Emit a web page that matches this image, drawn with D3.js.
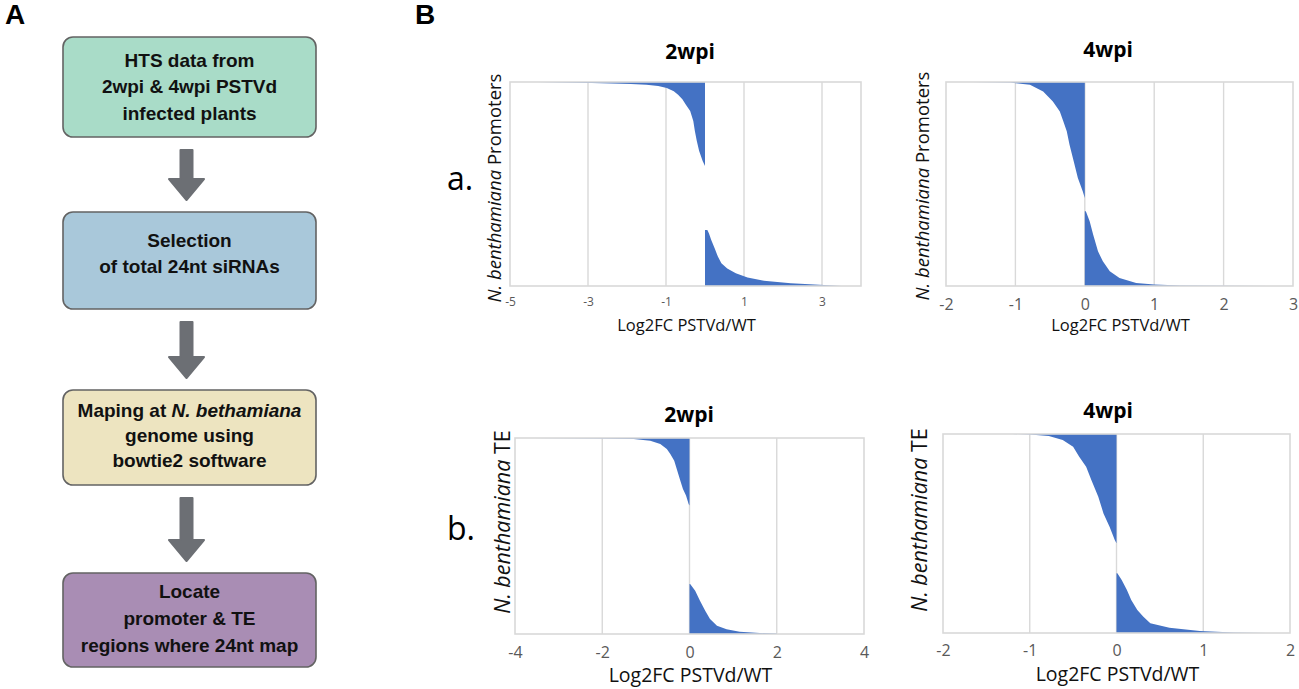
<!DOCTYPE html>
<html lang="en">
<head>
<meta charset="utf-8">
<title>PSTVd 24nt siRNA workflow and Log2FC distributions</title>
<script src="https://cdn.jsdelivr.net/npm/d3@7"></script>
<style>
  body { margin: 0; background: #fff; }
  svg { display: block; }
</style>
</head>
<body>
<div id="vis"></div>
<script>
// ---- data ----
// flowchart steps (text between * is italic)
const stepLines = [
  ["HTS data from", "2wpi & 4wpi PSTVd", "infected plants"],
  ["Selection", "of total 24nt siRNAs"],
  ["Maping at *N. bethamiana*", "genome using", "bowtie2 software"],
  ["Locate", "promoter & TE", "regions where 24nt map"]
];
const stepColours = ["#a9dcc8", "#a9c8da", "#ede4c0", "#a98db4"];

// rank = position of the feature in the sorted list (% of rows, top to bottom)
const a2wpiRank  = [0, 0.5, 1.0, 1.4, 2.0, 2.9, 4.5, 6.2, 8.5, 11.1, 14.2, 19.1, 24.0, 28.9, 33.8, 38.7, 41.2, 72.6, 72.6, 74.2, 77.5, 81.6, 85.6, 88.9, 91.4, 93.8, 95.8, 97.4, 98.7, 99.5, 100];
const a2wpiLog2FC = [-4.3, -2.9, -1.9, -1.5, -1.2, -0.98, -0.8, -0.69, -0.58, -0.49, -0.38, -0.30, -0.26, -0.21, -0.15, -0.06, 0, 0, 0.06, 0.10, 0.16, 0.25, 0.33, 0.42, 0.57, 0.79, 1.09, 1.51, 2.2, 3.05, 3.5];

const a4wpiRank  = [0, 0.3, 1.3, 4.6, 9.5, 14.4, 19.3, 24.2, 30.7, 38.9, 47.1, 53.6, 56.9, 63.4, 63.4, 68.3, 74.8, 83.0, 87.9, 92.8, 96.1, 98.5, 99.3, 99.7, 100];
const a4wpiLog2FC = [-1.62, -1.07, -0.79, -0.60, -0.46, -0.36, -0.31, -0.26, -0.22, -0.16, -0.10, -0.03, 0, 0, 0.015, 0.07, 0.12, 0.19, 0.26, 0.36, 0.5, 0.74, 1.0, 1.38, 2.67];

const b2wpiRank  = [0, 0.2, 0.5, 1.4, 3.1, 5.6, 8.2, 11.6, 16.7, 21.8, 26.0, 29.4, 33.7, 34.5, 74.5, 74.5, 77.9, 83.0, 88.1, 92.3, 95.8, 97.6, 98.8, 99.5, 99.8, 100];
const b2wpiLog2FC = [-3.6, -2.0, -1.28, -0.9, -0.67, -0.52, -0.44, -0.35, -0.28, -0.21, -0.15, -0.08, -0.02, 0, 0, 0.015, 0.13, 0.24, 0.36, 0.47, 0.63, 0.85, 1.15, 1.61, 2.0, 2.0];

const b4wpiRank  = [0, 0.3, 1.0, 3.0, 6.4, 11.4, 16.4, 23.1, 31.5, 39.9, 46.6, 53.3, 54.9, 70.0, 70.0, 73.4, 78.4, 83.4, 88.4, 91.8, 95.1, 97.3, 99.0, 99.7, 100];
const b4wpiLog2FC = [-1.2, -1.0, -0.78, -0.62, -0.5, -0.43, -0.35, -0.29, -0.21, -0.15, -0.08, -0.02, 0, 0, 0.01, 0.06, 0.12, 0.17, 0.24, 0.31, 0.39, 0.61, 0.96, 1.35, 1.73];

// tick labels on each x axis
const a2wpiTicks = [-5, -3, -1, 1, 3];
const a4wpiTicks = [-2, -1, 0, 1, 2, 3];
const b2wpiTicks = [-4, -2, 0, 2, 4];
const b4wpiTicks = [-2, -1, 0, 1, 2];

// ---- layout ----
const W = 1299, H = 689;
const blue = "#4472c4";
const gridCol = "#d9d9d9";
const chartFont = "'Open Sans', 'Noto Sans', sans-serif";
const boxFont = "'Liberation Sans', Arial, sans-serif";

const svg = d3.select("#vis").append("svg")
  .attr("width", W).attr("height", H)
  .attr("viewBox", `0 0 ${W} ${H}`);

// panel letters
svg.append("text").attr("x", 5).attr("y", 24).text("A")
  .attr("font-family", boxFont).attr("font-weight", "bold").attr("font-size", 28);
svg.append("text").attr("x", 415).attr("y", 24).text("B")
  .attr("font-family", boxFont).attr("font-weight", "bold").attr("font-size", 28);

// ---- panel A: flowchart ----
const boxX = 63, boxW = 253, boxCx = boxX + boxW / 2;
const boxes = [
  { top: 37, bottom: 137, base: [67, 93, 120] },
  { top: 212, bottom: 309, base: [247, 273] },
  { top: 390, bottom: 485, base: [417, 442, 467] },
  { top: 573, bottom: 667, base: [598, 625, 652] }
];

function addLine(sel, line) {
  // split on * to get italic pieces
  line.split("*").forEach((part, i) => {
    if (!part) return;
    sel.append("tspan").text(part).attr("font-style", i % 2 ? "italic" : null);
  });
}

boxes.forEach((b, i) => {
  const g = svg.append("g");
  g.append("rect")
    .attr("x", boxX).attr("y", b.top)
    .attr("width", boxW).attr("height", b.bottom - b.top)
    .attr("rx", 10).attr("ry", 10)
    .attr("fill", stepColours[i])
    .attr("stroke", "#636363").attr("stroke-width", 1.6);
  stepLines[i].forEach((line, j) => {
    const t = g.append("text")
      .attr("x", boxCx).attr("y", b.base[j])
      .attr("text-anchor", "middle")
      .attr("font-family", boxFont).attr("font-weight", "bold")
      .attr("font-size", 19).attr("fill", "#111");
    addLine(t, line);
  });

  // arrow down to the next box
  if (i < boxes.length - 1) {
    const y0 = b.bottom + 13, y1 = boxes[i + 1].top - 12;
    const headH = 21, shaftW = 12, headW = 35, cx = boxCx - 3;
    const p = d3.path();
    p.moveTo(cx - shaftW / 2, y0);
    p.lineTo(cx + shaftW / 2, y0);
    p.lineTo(cx + shaftW / 2, y1 - headH);
    p.lineTo(cx + headW / 2, y1 - headH);
    p.lineTo(cx, y1);
    p.lineTo(cx - headW / 2, y1 - headH);
    p.lineTo(cx - shaftW / 2, y1 - headH);
    p.closePath();
    svg.append("path").attr("d", p.toString())
      .attr("fill", "#6c6f74").attr("stroke", "#6c6f74")
      .attr("stroke-width", 2).attr("stroke-linejoin", "round");
  }
});

// ---- panel B: sorted Log2FC bar profiles ----
const charts = [
  { title: "2wpi", feature: "Promoters", rank: a2wpiRank, val: a2wpiLog2FC, ticks: a2wpiTicks,
    domain: [-5, 4], l: 510, r: 861, t: 82, b: 286, titleX: 690,
    titleY: 59, tickY: 306, tickSize: 12, axisY: 331, axisSize: 16.5, ylabX: 501, ylabY: 188, ylabSize: 18.5 },
  { title: "4wpi", feature: "Promoters", rank: a4wpiRank, val: a4wpiLog2FC, ticks: a4wpiTicks,
    domain: [-2, 3], l: 946, r: 1293, t: 82, b: 286, titleX: 1108,
    titleY: 57, tickY: 310, tickSize: 16, axisY: 331, axisSize: 16.5, ylabX: 929, ylabY: 186, ylabSize: 18.5 },
  { title: "2wpi", feature: "TE", rank: b2wpiRank, val: b2wpiLog2FC, ticks: b2wpiTicks,
    domain: [-4, 4], l: 515, r: 864, t: 438, b: 634, titleX: 689,
    titleY: 422, tickY: 658, tickSize: 16, axisY: 682, axisSize: 19.5, ylabX: 510, ylabY: 522, ylabSize: 21.5 },
  { title: "4wpi", feature: "TE", rank: b4wpiRank, val: b4wpiLog2FC, ticks: b4wpiTicks,
    domain: [-2, 2], l: 943, r: 1290, t: 434, b: 633, titleX: 1108,
    titleY: 418, tickY: 656, tickSize: 16, axisY: 681, axisSize: 19.5, ylabX: 927, ylabY: 520, ylabSize: 21.5 }
];

charts.forEach(c => {
  const x = d3.scaleLinear().domain(c.domain).range([c.l, c.r]);
  const y = d3.scaleLinear().domain([0, 100]).range([c.t, c.b]);
  const g = svg.append("g");

  // vertical gridlines (inner ticks only)
  g.selectAll(".grid")
    .data(c.ticks.filter(v => v > c.domain[0] && v < c.domain[1]))
    .join("line")
    .attr("x1", d => x(d)).attr("x2", d => x(d))
    .attr("y1", c.t).attr("y2", c.b)
    .attr("stroke", gridCol).attr("stroke-width", 1.4);

  // filled bars (one per ranked feature)
  const area = d3.area()
    .y((d, i) => y(c.rank[i]))
    .x0(x(0))
    .x1(d => x(d));
  g.append("path").datum(c.val)
    .attr("d", area)
    .attr("fill", blue);

  // plot frame
  g.append("rect")
    .attr("x", c.l).attr("y", c.t)
    .attr("width", c.r - c.l).attr("height", c.b - c.t)
    .attr("fill", "none").attr("stroke", gridCol).attr("stroke-width", 1.6);

  // x axis labels (plain hyphen minus like the original)
  const axis = d3.axisBottom(x).tickValues(c.ticks)
    .tickFormat(d => String(d)).tickSize(0).tickPadding(0);
  const ag = g.append("g").attr("transform", `translate(0,${c.tickY})`).call(axis);
  ag.select(".domain").remove();
  ag.selectAll("text")
    .attr("dy", 0).attr("y", 0)
    .attr("font-family", chartFont).attr("font-size", c.tickSize)
    .attr("fill", "#595959");

  // title
  g.append("text").text(c.title)
    .attr("x", c.titleX).attr("y", c.titleY)
    .attr("text-anchor", "middle")
    .attr("font-family", chartFont).attr("font-weight", "bold").attr("font-size", 21);

  // x axis title
  g.append("text").text("Log2FC PSTVd/WT")
    .attr("x", (c.l + c.r) / 2 + 1).attr("y", c.axisY)
    .attr("text-anchor", "middle")
    .attr("font-family", chartFont).attr("font-size", c.axisSize).attr("fill", "#111");

  // y axis title
  const yl = g.append("text")
    .attr("transform", `translate(${c.ylabX},${c.ylabY}) rotate(-90)`)
    .attr("text-anchor", "middle")
    .attr("font-family", chartFont).attr("font-size", c.ylabSize).attr("fill", "#111");
  yl.append("tspan").attr("font-style", "italic").text("N. benthamiana");
  yl.append("tspan").text(" " + c.feature);
});

// row letters
svg.append("text").attr("x", 447).attr("y", 190).text("a.")
  .attr("font-family", chartFont).attr("font-size", 32);
svg.append("text").attr("x", 447).attr("y", 540).text("b.")
  .attr("font-family", chartFont).attr("font-size", 32);
</script>
</body>
</html>
